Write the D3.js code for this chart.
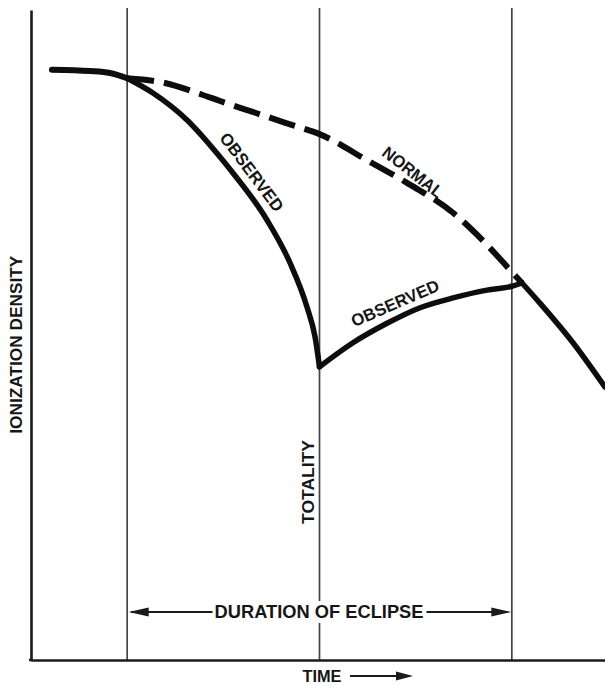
<!DOCTYPE html>
<html>
<head>
<meta charset="utf-8">
<script src="https://cdn.jsdelivr.net/npm/d3@7"></script>
<style>
  html, body { margin: 0; padding: 0; background: #fff; }
  svg { display: block; }
  text { font-family: "Liberation Sans", Arial, sans-serif; font-weight: bold; fill: #161616; }
</style>
</head>
<body>
<script>
// ---- Data (time in eclipse units: 0 = first contact, 1 = totality, 2 = last contact) ----
const eventTimes  = [0, 1, 2];
const eventNames  = ["start", "totality", "end"];

// Common (pre-eclipse) ionization density
const preT = [-0.391, -0.193, -0.089, 0.0];
const preD = [9.08, 9.06, 9.03, 8.95];

// Normal (dashed) during eclipse
const normalT = [0.0, 0.197, 0.379, 0.483, 0.670, 0.873, 1.0, 1.247, 1.455, 1.694, 1.860, 2.0, 2.053];
const normalD = [8.95, 8.877, 8.708, 8.60, 8.415, 8.215, 8.09, 7.69, 7.34, 6.88, 6.42, 5.97, 5.80];

// Normal after the eclipse (solid)
const postT = [2.053, 2.146, 2.318, 2.484];
const postD = [5.80, 5.49, 4.88, 4.20];

// Observed, first contact to totality
const obs1T = [0.0, 0.134, 0.311, 0.483, 0.550, 0.727, 0.847, 0.935, 0.977, 1.0];
const obs1D = [8.95, 8.723, 8.308, 7.738, 7.492, 6.769, 6.108, 5.431, 4.969, 4.51];

// Observed, totality to last contact
const obs2T = [1.0, 1.174, 1.351, 1.523, 1.694, 1.871, 2.0, 2.053];
const obs2D = [4.51, 4.88, 5.18, 5.42, 5.57, 5.69, 5.75, 5.80];

const yLabel = "IONIZATION DENSITY";
const xLabel = "TIME";
const spanLabel = "DURATION OF ECLIPSE";
const totalityLabel = "TOTALITY";
const observedLabel = "OBSERVED";
const normalLabel = "NORMAL";

// ---- Layout ----
const W = 605, H = 686;
const svg = d3.select("body").append("svg").attr("width", W).attr("height", H);

const x = d3.scaleLinear().domain([-0.5, 2.5]).range([31, 608]);
const y = d3.scaleLinear().domain([0, 10]).range([660, 10]);

const zip = (ts, ds) => ts.map((t, i) => [t, ds[i]]);
const line = d3.line().x(d => x(d[0])).y(d => y(d[1])).curve(d3.curveMonotoneX);

// Event vertical lines
svg.append("g").selectAll("line").data(eventTimes).join("line")
  .attr("x1", d => x(d)).attr("x2", d => x(d))
  .attr("y1", y(10) - 2).attr("y2", y(0))
  .attr("stroke", "#444").attr("stroke-width", 1.7);

// Axes (no ticks)
svg.append("g").attr("transform", `translate(0,${y(0)})`)
  .call(d3.axisBottom(x).tickValues([]).tickSizeOuter(0))
  .call(g => g.select(".domain").attr("stroke", "#1a1a1a").attr("stroke-width", 2.6));
svg.append("g").attr("transform", `translate(${x(-0.5)},0)`)
  .call(d3.axisLeft(y).tickValues([]).tickSizeOuter(0))
  .call(g => g.select(".domain").attr("stroke", "#1a1a1a").attr("stroke-width", 2.6));
svg.append("line").attr("x1", x(-0.5) - 2).attr("x2", x(-0.5) + 1)
  .attr("y1", y(0)).attr("y2", y(0)).attr("stroke", "#1a1a1a").attr("stroke-width", 2.6);

// Curves
const curves = svg.append("g").attr("fill", "none").attr("stroke", "#0d0d0d").attr("stroke-linecap", "round");
curves.append("path").attr("d", line(zip(normalT, normalD)))
  .attr("stroke-width", 6).attr("stroke-dasharray", "27,10").attr("stroke-linecap", "butt");
curves.append("path").attr("d", line(zip(preT, preD))).attr("stroke-width", 6);
curves.append("path").attr("d", line(zip(postT, postD))).attr("stroke-width", 5.5);
curves.append("path").attr("d", line(zip(obs1T, obs1D))).attr("stroke-width", 5.5).attr("stroke-linejoin", "round");
curves.append("path").attr("d", line(zip(obs2T, obs2D))).attr("stroke-width", 5.5);

// Curve labels
function label(txt, cx, cy, angle, len, size) {
  svg.append("text")
    .attr("transform", `translate(${cx},${cy}) rotate(${angle})`)
    .attr("text-anchor", "middle").attr("y", size * 0.36)
    .attr("font-size", size)
    .attr("textLength", len).attr("lengthAdjust", "spacingAndGlyphs")
    .text(txt);
}
label(observedLabel, 252, 172, 53, 94, 17);
label(normalLabel, 413, 172, 38, 72, 17);
label(observedLabel, 395, 303, -23.5, 94, 17);
label(totalityLabel, x(1) - 12, 482, -90, 84, 17);
label(yLabel, 16, y(4.85), -90, 178, 17);

// Duration of eclipse arrow
const arrowY = 612;
const spanG = svg.append("g");
spanG.append("line").attr("x1", x(0) + 4).attr("x2", x(2) - 4)
  .attr("y1", arrowY).attr("y2", arrowY).attr("stroke", "#1a1a1a").attr("stroke-width", 1.8);
const head = (tipX, dir) => `M${tipX},${arrowY} L${tipX + dir * 20},${arrowY - 4.5} L${tipX + dir * 20},${arrowY + 4.5} Z`;
spanG.append("path").attr("d", head(x(0) + 1.5, 1)).attr("fill", "#1a1a1a");
spanG.append("path").attr("d", head(x(2) - 0.5, -1)).attr("fill", "#1a1a1a");
spanG.append("rect").attr("x", x(1) - 107).attr("y", arrowY - 11).attr("width", 214).attr("height", 22).attr("fill", "#fff");
spanG.append("text").attr("x", x(1) - 0.5).attr("y", arrowY + 18 * 0.36)
  .attr("text-anchor", "middle")
  .attr("font-size", 18).attr("textLength", 209).attr("lengthAdjust", "spacingAndGlyphs")
  .text(spanLabel);

// Time label with arrow
const timeY = 676;
svg.append("text").attr("x", 322).attr("y", timeY + 17 * 0.36)
  .attr("text-anchor", "middle")
  .attr("font-size", 17).attr("textLength", 39).attr("lengthAdjust", "spacingAndGlyphs")
  .text(xLabel);
svg.append("line").attr("x1", 350).attr("x2", 400).attr("y1", timeY).attr("y2", timeY)
  .attr("stroke", "#1a1a1a").attr("stroke-width", 2);
svg.append("path").attr("d", `M413,${timeY} L396,${timeY - 4.5} L396,${timeY + 4.5} Z`).attr("fill", "#1a1a1a");
</script>
</body>
</html>
